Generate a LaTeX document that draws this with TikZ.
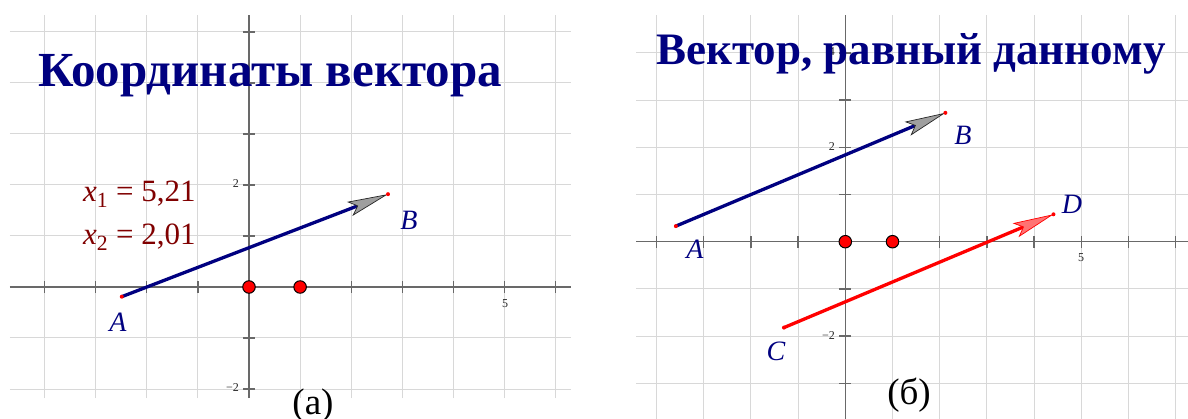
\documentclass[tikz,border=0pt]{standalone}
\usepackage{fontspec}
\setmainfont{Liberation Serif}
\usetikzlibrary{arrows.meta}
\definecolor{ggnavy}{RGB}{0,0,128}
\definecolor{ggdarkred}{RGB}{128,0,0}
\definecolor{gggrid}{RGB}{216,216,216}
\definecolor{ggaxis}{RGB}{105,105,105}
\begin{document}
\begin{tikzpicture}[x=1pt,y=-1pt,
  gridline/.style={draw=gggrid, line width=1pt},
  axisline/.style={draw=ggaxis, line width=1.6pt},
  tickline/.style={draw=ggaxis, line width=1.3pt},
  ticklabel/.style={font=\fontsize{12}{12}\selectfont, text=black!85, inner sep=0pt},
  ptlabel/.style={font=\itshape\fontsize{28}{28}\selectfont, text=ggnavy, inner sep=0pt, anchor=base},
  titletext/.style={font=\bfseries\fontsize{49}{49}\selectfont, text=ggnavy, inner sep=0pt, anchor=base west},
  captiontext/.style={font=\fontsize{37}{37}\selectfont, text=black, inner sep=0pt, anchor=base},
  coordtext/.style={font=\fontsize{31}{31}\selectfont, text=ggdarkred, inner sep=0pt, anchor=base west},
  origindot/.style={circle, fill=red, draw=black, line width=1pt, minimum size=12.5pt, inner sep=0pt},
  enddot/.style={circle, fill=red, minimum size=4pt, inner sep=0pt},
  navyvec/.style={draw=ggnavy, line width=3.3pt, -{Stealth[length=41pt,width=15pt,inset=8pt,line width=0.7pt,color=black!85,fill=gray!75]}},
  redvec/.style={draw=red, line width=3.3pt, -{Stealth[length=41pt,width=15pt,inset=8pt,line width=0.7pt,color=red,fill=red!55]}}
]
\useasboundingbox (0,0) rectangle (1188,419);
\fill[white] (0,0) rectangle (1188,419);

% ---------- panel (a) ----------
\begin{scope}[shift={(249,287)}, x=51.1pt, y=51pt]
  \foreach \i in {-4,...,6} \draw[gridline] (\i,-2.18) -- (\i,5.33);
  \foreach \j in {-2,...,5} \draw[gridline] (-4.68,\j) -- (6.30,\j);
  \draw[axisline] (-4.68,0) -- (6.30,0);
  \draw[axisline] (0,-2.18) -- (0,5.33);
  \foreach \i in {-4,...,6} \draw[tickline] ([yshift=-6pt]\i,0) -- ([yshift=6pt]\i,0);
  \foreach \j in {-2,...,5} \draw[tickline] ([xshift=-6pt]0,\j) -- ([xshift=6pt]0,\j);
  \coordinate (aA) at (-2.49,-0.19);
  \coordinate (aB) at (2.72,1.82);
  \node[origindot] (aO) at (0,0) {};
  \node[origindot] (aE) at (1,0) {};
\end{scope}
\node[ticklabel, anchor=east] (at2) at (239,184) {2};
\node[ticklabel, anchor=east] (atm2) at (239,388) {−2};
\node[ticklabel] (at5) at (505,304) {5};
\draw[navyvec] (aA) -- (aB);
\node[enddot] (aAd) at (aA) {};
\node[enddot] (aBd) at (aB) {};
\node[ptlabel] (aAl) at (118,332) {A};
\node[ptlabel] (aBl) at (409,230) {B};
\node[coordtext] (ax1) at (83,202) {\textit{x}\textsubscript{1} = 5,21};
\node[coordtext] (ax2) at (83,245) {\textit{x}\textsubscript{2} = 2,01};
\node[titletext] (atitle) at (38,87) {Координаты вектора};
\node[captiontext] (acap) at (313,414) {(а)};

% ---------- panel (b) ----------
\begin{scope}[shift={(845.3,241.7)}, x=47.2pt, y=47.2pt]
  \foreach \i in {-4,...,7} \draw[gridline] (\i,-3.76) -- (\i,4.80);
  \foreach \j in {-3,...,4} \draw[gridline] (-4.43,\j) -- (7.26,\j);
  \draw[axisline] (-4.43,0) -- (7.26,0);
  \draw[axisline] (0,-3.76) -- (0,4.80);
  \foreach \i in {-4,...,7} \draw[tickline] ([yshift=-6pt]\i,0) -- ([yshift=6pt]\i,0);
  \foreach \j in {-3,...,4} \draw[tickline] ([xshift=-6pt]0,\j) -- ([xshift=6pt]0,\j);
  \coordinate (bA) at (-3.59,0.33);
  \coordinate (bB) at (2.12,2.73);
  \coordinate (bC) at (-1.30,-1.82);
  \coordinate (bD) at (4.41,0.58);
  \node[origindot] (bO) at (0,0) {};
  \node[origindot] (bE) at (1,0) {};
\end{scope}
\node[ticklabel, anchor=east] (bt4) at (835,52) {4};
\node[ticklabel, anchor=east] (bt2) at (835,147) {2};
\node[ticklabel, anchor=east] (btm2) at (835,336) {−2};
\node[ticklabel] (bt5) at (1081,258) {5};
\draw[navyvec] (bA) -- (bB);
\draw[redvec] (bC) -- (bD);
\node[enddot] (bAd) at (bA) {};
\node[enddot] (bBd) at (bB) {};
\node[enddot] (bCd) at (bC) {};
\node[enddot] (bDd) at (bD) {};
\node[ptlabel] (bAl) at (695,259) {A};
\node[ptlabel] (bBl) at (963,145) {B};
\node[ptlabel] (bCl) at (776,360) {C};
\node[ptlabel] (bDl) at (1072,214) {D};
\node[titletext, font=\bfseries\fontsize{45}{45}\selectfont] (btitle) at (656,65) {Вектор, равный данному};
\node[captiontext] (bcap) at (909,404) {(б)};
\end{tikzpicture}
\end{document}
